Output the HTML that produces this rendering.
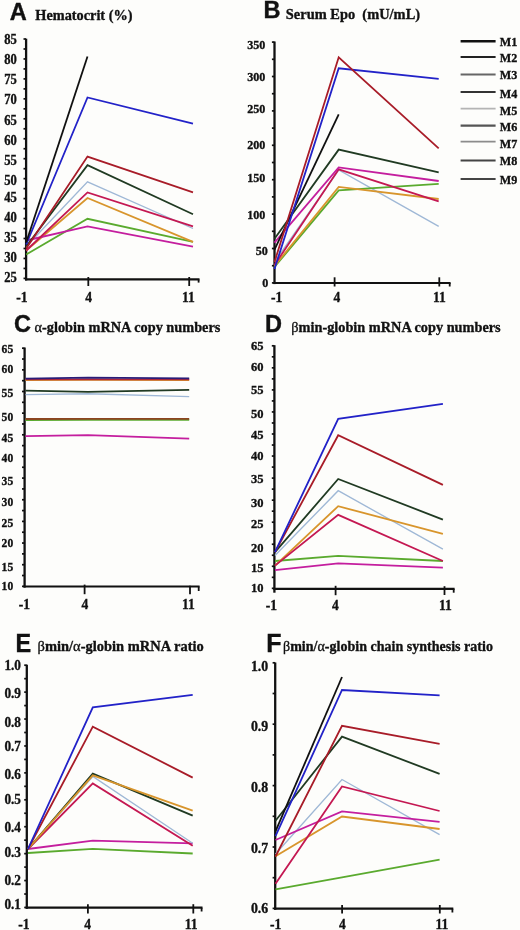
<!DOCTYPE html>
<html><head><meta charset="utf-8"><title>Figure</title>
<style>
html,body{margin:0;padding:0;background:#fdfdfb;}
body{width:520px;height:930px;overflow:hidden;font-family:"Liberation Serif", serif;}
svg{display:block;filter:blur(0.3px);} text{will-change:transform;}
</style></head>
<body>
<svg width="520" height="930" viewBox="0 0 520 930">
<rect x="0" y="0" width="520" height="930" fill="#fdfdfb"/>
<g fill="#111">
<text transform="translate(9.70,20.40) scale(0.97,1)" font-size="24.3" text-anchor="start" font-family='"Liberation Sans", sans-serif' font-weight="bold" stroke="#111" stroke-width="0.4">A</text>
<text transform="translate(35.30,20.40) scale(0.94,1)" font-size="15.2" text-anchor="start" font-family='"Liberation Serif", serif' font-weight="bold" stroke="#111" stroke-width="0.35">Hematocrit (%)</text>
<line x1="26.10" y1="38.70" x2="26.10" y2="280.50" stroke="#111" stroke-width="2.3"/>
<line x1="23.50" y1="39.00" x2="26.10" y2="39.00" stroke="#111" stroke-width="1.7"/>
<line x1="23.50" y1="48.98" x2="26.10" y2="48.98" stroke="#111" stroke-width="1.7"/>
<line x1="23.50" y1="58.95" x2="26.10" y2="58.95" stroke="#111" stroke-width="1.7"/>
<line x1="23.50" y1="68.92" x2="26.10" y2="68.92" stroke="#111" stroke-width="1.7"/>
<line x1="23.50" y1="78.90" x2="26.10" y2="78.90" stroke="#111" stroke-width="1.7"/>
<line x1="23.50" y1="88.88" x2="26.10" y2="88.88" stroke="#111" stroke-width="1.7"/>
<line x1="23.50" y1="98.85" x2="26.10" y2="98.85" stroke="#111" stroke-width="1.7"/>
<line x1="23.50" y1="108.83" x2="26.10" y2="108.83" stroke="#111" stroke-width="1.7"/>
<line x1="23.50" y1="118.80" x2="26.10" y2="118.80" stroke="#111" stroke-width="1.7"/>
<line x1="23.50" y1="128.78" x2="26.10" y2="128.78" stroke="#111" stroke-width="1.7"/>
<line x1="23.50" y1="138.75" x2="26.10" y2="138.75" stroke="#111" stroke-width="1.7"/>
<line x1="23.50" y1="148.73" x2="26.10" y2="148.73" stroke="#111" stroke-width="1.7"/>
<line x1="23.50" y1="158.70" x2="26.10" y2="158.70" stroke="#111" stroke-width="1.7"/>
<line x1="23.50" y1="168.68" x2="26.10" y2="168.68" stroke="#111" stroke-width="1.7"/>
<line x1="23.50" y1="178.65" x2="26.10" y2="178.65" stroke="#111" stroke-width="1.7"/>
<line x1="23.50" y1="188.62" x2="26.10" y2="188.62" stroke="#111" stroke-width="1.7"/>
<line x1="23.50" y1="198.60" x2="26.10" y2="198.60" stroke="#111" stroke-width="1.7"/>
<line x1="23.50" y1="208.58" x2="26.10" y2="208.58" stroke="#111" stroke-width="1.7"/>
<line x1="23.50" y1="218.55" x2="26.10" y2="218.55" stroke="#111" stroke-width="1.7"/>
<line x1="23.50" y1="228.53" x2="26.10" y2="228.53" stroke="#111" stroke-width="1.7"/>
<line x1="23.50" y1="238.50" x2="26.10" y2="238.50" stroke="#111" stroke-width="1.7"/>
<line x1="23.50" y1="248.48" x2="26.10" y2="248.48" stroke="#111" stroke-width="1.7"/>
<line x1="23.50" y1="258.45" x2="26.10" y2="258.45" stroke="#111" stroke-width="1.7"/>
<line x1="23.50" y1="268.43" x2="26.10" y2="268.43" stroke="#111" stroke-width="1.7"/>
<line x1="23.50" y1="278.40" x2="26.10" y2="278.40" stroke="#111" stroke-width="1.7"/>
<text transform="translate(16.90,43.73) scale(0.9,1)" font-size="14" text-anchor="end" font-family='"Liberation Serif", serif' font-weight="bold" stroke="#111" stroke-width="0.35">85</text>
<text transform="translate(16.90,64.03) scale(0.9,1)" font-size="14" text-anchor="end" font-family='"Liberation Serif", serif' font-weight="bold" stroke="#111" stroke-width="0.35">80</text>
<text transform="translate(16.90,84.23) scale(0.9,1)" font-size="14" text-anchor="end" font-family='"Liberation Serif", serif' font-weight="bold" stroke="#111" stroke-width="0.35">75</text>
<text transform="translate(16.90,103.93) scale(0.9,1)" font-size="14" text-anchor="end" font-family='"Liberation Serif", serif' font-weight="bold" stroke="#111" stroke-width="0.35">70</text>
<text transform="translate(16.90,124.73) scale(0.9,1)" font-size="14" text-anchor="end" font-family='"Liberation Serif", serif' font-weight="bold" stroke="#111" stroke-width="0.35">65</text>
<text transform="translate(16.90,144.93) scale(0.9,1)" font-size="14" text-anchor="end" font-family='"Liberation Serif", serif' font-weight="bold" stroke="#111" stroke-width="0.35">60</text>
<text transform="translate(16.90,164.93) scale(0.9,1)" font-size="14" text-anchor="end" font-family='"Liberation Serif", serif' font-weight="bold" stroke="#111" stroke-width="0.35">55</text>
<text transform="translate(16.90,185.03) scale(0.9,1)" font-size="14" text-anchor="end" font-family='"Liberation Serif", serif' font-weight="bold" stroke="#111" stroke-width="0.35">50</text>
<text transform="translate(16.90,201.83) scale(0.9,1)" font-size="14" text-anchor="end" font-family='"Liberation Serif", serif' font-weight="bold" stroke="#111" stroke-width="0.35">45</text>
<text transform="translate(16.90,221.53) scale(0.9,1)" font-size="14" text-anchor="end" font-family='"Liberation Serif", serif' font-weight="bold" stroke="#111" stroke-width="0.35">40</text>
<text transform="translate(16.90,241.93) scale(0.9,1)" font-size="14" text-anchor="end" font-family='"Liberation Serif", serif' font-weight="bold" stroke="#111" stroke-width="0.35">35</text>
<text transform="translate(16.90,262.13) scale(0.9,1)" font-size="14" text-anchor="end" font-family='"Liberation Serif", serif' font-weight="bold" stroke="#111" stroke-width="0.35">30</text>
<text transform="translate(16.90,282.33) scale(0.9,1)" font-size="14" text-anchor="end" font-family='"Liberation Serif", serif' font-weight="bold" stroke="#111" stroke-width="0.35">25</text>
<line x1="25.00" y1="279.40" x2="199.50" y2="279.40" stroke="#111" stroke-width="2.2"/>
<line x1="88.30" y1="277.00" x2="88.30" y2="286.00" stroke="#111" stroke-width="1.8"/>
<line x1="189.20" y1="277.00" x2="189.20" y2="286.00" stroke="#111" stroke-width="1.8"/>
<line x1="198.60" y1="279.40" x2="198.60" y2="282.60" stroke="#111" stroke-width="1.8"/>
<text transform="translate(22.00,302.00) scale(0.97,1)" font-size="14" text-anchor="middle" font-family='"Liberation Serif", serif' font-weight="bold" stroke="#111" stroke-width="0.35">-1</text>
<text transform="translate(88.70,302.00) scale(0.97,1)" font-size="14" text-anchor="middle" font-family='"Liberation Serif", serif' font-weight="bold" stroke="#111" stroke-width="0.35">4</text>
<text transform="translate(188.50,302.00) scale(0.97,1)" font-size="14" text-anchor="middle" font-family='"Liberation Serif", serif' font-weight="bold" stroke="#111" stroke-width="0.35">11</text>
<polyline points="26.2,246.5 87.5,181.8 193,228.5" fill="none" stroke="#9fb8d6" stroke-width="1.35" stroke-linejoin="miter" stroke-linecap="butt"/>
<polyline points="26.2,254.5 87.5,218.8 193,241.8" fill="none" stroke="#5aaa2e" stroke-width="1.8" stroke-linejoin="miter" stroke-linecap="butt"/>
<polyline points="26.2,250.5 87.5,198 193,241.8" fill="none" stroke="#d8952c" stroke-width="1.8" stroke-linejoin="miter" stroke-linecap="butt"/>
<polyline points="26.2,240.5 87.5,226.3 193,246.6" fill="none" stroke="#c41e9e" stroke-width="1.8" stroke-linejoin="miter" stroke-linecap="butt"/>
<polyline points="26.2,250.5 87.5,192.4 193,226.4" fill="none" stroke="#c41852" stroke-width="1.8" stroke-linejoin="miter" stroke-linecap="butt"/>
<polyline points="26.2,246.5 87.5,165.1 193,214.3" fill="none" stroke="#203a22" stroke-width="1.8" stroke-linejoin="miter" stroke-linecap="butt"/>
<polyline points="26.2,248.5 87.5,156.6 193,192.3" fill="none" stroke="#a81c28" stroke-width="1.8" stroke-linejoin="miter" stroke-linecap="butt"/>
<polyline points="26.2,244.5 87.5,97.5 193,123.6" fill="none" stroke="#2222c8" stroke-width="1.8" stroke-linejoin="miter" stroke-linecap="butt"/>
<polyline points="26.2,242.5 87.5,56.5" fill="none" stroke="#101010" stroke-width="1.8" stroke-linejoin="miter" stroke-linecap="butt"/>
<text transform="translate(263.60,17.90) scale(0.97,1)" font-size="24.3" text-anchor="start" font-family='"Liberation Sans", sans-serif' font-weight="bold" stroke="#111" stroke-width="0.4">B</text>
<text transform="translate(285.80,18.50) scale(0.95,1)" font-size="15.2" text-anchor="start" font-family='"Liberation Serif", serif' font-weight="bold" stroke="#111" stroke-width="0.35">Serum Epo&#160;&#160;(mU/mL)</text>
<line x1="274.50" y1="41.50" x2="274.50" y2="284.10" stroke="#111" stroke-width="2.3"/>
<line x1="271.90" y1="42.10" x2="274.50" y2="42.10" stroke="#111" stroke-width="1.7"/>
<line x1="271.90" y1="59.30" x2="274.50" y2="59.30" stroke="#111" stroke-width="1.7"/>
<line x1="271.90" y1="76.50" x2="274.50" y2="76.50" stroke="#111" stroke-width="1.7"/>
<line x1="271.90" y1="93.70" x2="274.50" y2="93.70" stroke="#111" stroke-width="1.7"/>
<line x1="271.90" y1="110.90" x2="274.50" y2="110.90" stroke="#111" stroke-width="1.7"/>
<line x1="271.90" y1="128.10" x2="274.50" y2="128.10" stroke="#111" stroke-width="1.7"/>
<line x1="271.90" y1="145.30" x2="274.50" y2="145.30" stroke="#111" stroke-width="1.7"/>
<line x1="271.90" y1="162.50" x2="274.50" y2="162.50" stroke="#111" stroke-width="1.7"/>
<line x1="271.90" y1="179.70" x2="274.50" y2="179.70" stroke="#111" stroke-width="1.7"/>
<line x1="271.90" y1="196.90" x2="274.50" y2="196.90" stroke="#111" stroke-width="1.7"/>
<line x1="271.90" y1="214.10" x2="274.50" y2="214.10" stroke="#111" stroke-width="1.7"/>
<line x1="271.90" y1="231.30" x2="274.50" y2="231.30" stroke="#111" stroke-width="1.7"/>
<line x1="271.90" y1="248.50" x2="274.50" y2="248.50" stroke="#111" stroke-width="1.7"/>
<line x1="271.90" y1="265.70" x2="274.50" y2="265.70" stroke="#111" stroke-width="1.7"/>
<line x1="271.90" y1="282.90" x2="274.50" y2="282.90" stroke="#111" stroke-width="1.7"/>
<text transform="translate(265.40,49.06) scale(0.92,1)" font-size="13.2" text-anchor="end" font-family='"Liberation Serif", serif' font-weight="bold" stroke="#111" stroke-width="0.35">350</text>
<text transform="translate(265.40,81.26) scale(0.92,1)" font-size="13.2" text-anchor="end" font-family='"Liberation Serif", serif' font-weight="bold" stroke="#111" stroke-width="0.35">300</text>
<text transform="translate(265.40,113.26) scale(0.92,1)" font-size="13.2" text-anchor="end" font-family='"Liberation Serif", serif' font-weight="bold" stroke="#111" stroke-width="0.35">250</text>
<text transform="translate(265.40,149.06) scale(0.92,1)" font-size="13.2" text-anchor="end" font-family='"Liberation Serif", serif' font-weight="bold" stroke="#111" stroke-width="0.35">200</text>
<text transform="translate(265.40,182.46) scale(0.92,1)" font-size="13.2" text-anchor="end" font-family='"Liberation Serif", serif' font-weight="bold" stroke="#111" stroke-width="0.35">150</text>
<text transform="translate(265.40,219.06) scale(0.92,1)" font-size="13.2" text-anchor="end" font-family='"Liberation Serif", serif' font-weight="bold" stroke="#111" stroke-width="0.35">100</text>
<text transform="translate(267.80,254.86) scale(0.92,1)" font-size="13.2" text-anchor="end" font-family='"Liberation Serif", serif' font-weight="bold" stroke="#111" stroke-width="0.35">50</text>
<text transform="translate(268.30,287.46) scale(0.92,1)" font-size="13.2" text-anchor="end" font-family='"Liberation Serif", serif' font-weight="bold" stroke="#111" stroke-width="0.35">0</text>
<line x1="273.40" y1="283.00" x2="450.60" y2="283.00" stroke="#111" stroke-width="2.2"/>
<line x1="334.60" y1="277.30" x2="334.60" y2="286.50" stroke="#111" stroke-width="1.8"/>
<line x1="439.30" y1="277.30" x2="439.30" y2="286.50" stroke="#111" stroke-width="1.8"/>
<line x1="449.70" y1="283.00" x2="449.70" y2="286.50" stroke="#111" stroke-width="1.8"/>
<text transform="translate(276.60,302.30) scale(0.97,1)" font-size="14" text-anchor="middle" font-family='"Liberation Serif", serif' font-weight="bold" stroke="#111" stroke-width="0.35">-1</text>
<text transform="translate(336.80,302.30) scale(0.97,1)" font-size="14" text-anchor="middle" font-family='"Liberation Serif", serif' font-weight="bold" stroke="#111" stroke-width="0.35">4</text>
<text transform="translate(439.30,302.30) scale(0.97,1)" font-size="14" text-anchor="middle" font-family='"Liberation Serif", serif' font-weight="bold" stroke="#111" stroke-width="0.35">11</text>
<polyline points="274.5,262 338.7,170 438.7,226.4" fill="none" stroke="#9fb8d6" stroke-width="1.35" stroke-linejoin="miter" stroke-linecap="butt"/>
<polyline points="274.5,267 338.7,190.3 438.7,183.9" fill="none" stroke="#5aaa2e" stroke-width="1.8" stroke-linejoin="miter" stroke-linecap="butt"/>
<polyline points="274.5,266 338.7,186.9 438.7,199" fill="none" stroke="#d8952c" stroke-width="1.8" stroke-linejoin="miter" stroke-linecap="butt"/>
<polyline points="274.5,265 338.7,169.3 438.7,201.3" fill="none" stroke="#c41852" stroke-width="1.8" stroke-linejoin="miter" stroke-linecap="butt"/>
<polyline points="274.5,242.7 338.7,167.4 438.7,181" fill="none" stroke="#c41e9e" stroke-width="1.8" stroke-linejoin="miter" stroke-linecap="butt"/>
<polyline points="274.5,238.8 338.7,149.6 438.7,172.3" fill="none" stroke="#203a22" stroke-width="1.8" stroke-linejoin="miter" stroke-linecap="butt"/>
<polyline points="274.5,249.6 338.7,114.4" fill="none" stroke="#101010" stroke-width="1.8" stroke-linejoin="miter" stroke-linecap="butt"/>
<polyline points="274.5,269 338.7,68.3 438.7,78.8" fill="none" stroke="#2222c8" stroke-width="1.8" stroke-linejoin="miter" stroke-linecap="butt"/>
<polyline points="274.5,262 338.7,57.3 438.7,148.4" fill="none" stroke="#a81c28" stroke-width="1.8" stroke-linejoin="miter" stroke-linecap="butt"/>
<line x1="460.60" y1="41.20" x2="495.60" y2="41.20" stroke="#111" stroke-width="2.6"/>
<text transform="translate(499.70,46.40) scale(0.9,1)" font-size="13.5" text-anchor="start" font-family='"Liberation Serif", serif' font-weight="bold" stroke="#111" stroke-width="0.35">M1</text>
<line x1="460.60" y1="57.00" x2="495.60" y2="57.00" stroke="#222" stroke-width="2.2"/>
<text transform="translate(499.70,62.30) scale(0.9,1)" font-size="13.5" text-anchor="start" font-family='"Liberation Serif", serif' font-weight="bold" stroke="#111" stroke-width="0.35">M2</text>
<line x1="460.60" y1="74.40" x2="495.60" y2="74.40" stroke="#666" stroke-width="2"/>
<text transform="translate(499.70,78.90) scale(0.9,1)" font-size="13.5" text-anchor="start" font-family='"Liberation Serif", serif' font-weight="bold" stroke="#111" stroke-width="0.35">M3</text>
<line x1="460.60" y1="91.90" x2="495.60" y2="91.90" stroke="#333" stroke-width="2"/>
<text transform="translate(499.70,98.30) scale(0.9,1)" font-size="13.5" text-anchor="start" font-family='"Liberation Serif", serif' font-weight="bold" stroke="#111" stroke-width="0.35">M4</text>
<line x1="460.60" y1="108.60" x2="495.60" y2="108.60" stroke="#b4b4b4" stroke-width="1.6"/>
<text transform="translate(499.70,115.10) scale(0.9,1)" font-size="13.5" text-anchor="start" font-family='"Liberation Serif", serif' font-weight="bold" stroke="#111" stroke-width="0.35">M5</text>
<line x1="460.60" y1="125.60" x2="495.60" y2="125.60" stroke="#555" stroke-width="2.2"/>
<text transform="translate(499.70,131.40) scale(0.9,1)" font-size="13.5" text-anchor="start" font-family='"Liberation Serif", serif' font-weight="bold" stroke="#111" stroke-width="0.35">M6</text>
<line x1="460.60" y1="141.70" x2="495.60" y2="141.70" stroke="#8c8c8c" stroke-width="1.8"/>
<text transform="translate(499.70,147.60) scale(0.9,1)" font-size="13.5" text-anchor="start" font-family='"Liberation Serif", serif' font-weight="bold" stroke="#111" stroke-width="0.35">M7</text>
<line x1="460.60" y1="160.60" x2="495.60" y2="160.60" stroke="#444" stroke-width="2"/>
<text transform="translate(499.70,164.50) scale(0.9,1)" font-size="13.5" text-anchor="start" font-family='"Liberation Serif", serif' font-weight="bold" stroke="#111" stroke-width="0.35">M8</text>
<line x1="460.60" y1="179.00" x2="495.60" y2="179.00" stroke="#444" stroke-width="2"/>
<text transform="translate(499.70,183.90) scale(0.9,1)" font-size="13.5" text-anchor="start" font-family='"Liberation Serif", serif' font-weight="bold" stroke="#111" stroke-width="0.35">M9</text>
<text transform="translate(14.00,331.60) scale(0.97,1)" font-size="24.3" text-anchor="start" font-family='"Liberation Sans", sans-serif' font-weight="bold" stroke="#111" stroke-width="0.4">C</text>
<text transform="translate(34.60,332.00) scale(0.935,1)" font-size="15.3" text-anchor="start" font-family='"Liberation Serif", serif' font-weight="bold" stroke="#111" stroke-width="0.35"><tspan font-weight="normal">α</tspan>-globin mRNA copy numbers</text>
<line x1="24.60" y1="347.50" x2="24.60" y2="587.60" stroke="#111" stroke-width="2.3"/>
<line x1="22.00" y1="348.20" x2="24.60" y2="348.20" stroke="#111" stroke-width="1.7"/>
<line x1="22.00" y1="359.02" x2="24.60" y2="359.02" stroke="#111" stroke-width="1.7"/>
<line x1="22.00" y1="369.85" x2="24.60" y2="369.85" stroke="#111" stroke-width="1.7"/>
<line x1="22.00" y1="380.68" x2="24.60" y2="380.68" stroke="#111" stroke-width="1.7"/>
<line x1="22.00" y1="391.50" x2="24.60" y2="391.50" stroke="#111" stroke-width="1.7"/>
<line x1="22.00" y1="402.32" x2="24.60" y2="402.32" stroke="#111" stroke-width="1.7"/>
<line x1="22.00" y1="413.15" x2="24.60" y2="413.15" stroke="#111" stroke-width="1.7"/>
<line x1="22.00" y1="423.98" x2="24.60" y2="423.98" stroke="#111" stroke-width="1.7"/>
<line x1="22.00" y1="434.80" x2="24.60" y2="434.80" stroke="#111" stroke-width="1.7"/>
<line x1="22.00" y1="445.62" x2="24.60" y2="445.62" stroke="#111" stroke-width="1.7"/>
<line x1="22.00" y1="456.45" x2="24.60" y2="456.45" stroke="#111" stroke-width="1.7"/>
<line x1="22.00" y1="467.27" x2="24.60" y2="467.27" stroke="#111" stroke-width="1.7"/>
<line x1="22.00" y1="478.10" x2="24.60" y2="478.10" stroke="#111" stroke-width="1.7"/>
<line x1="22.00" y1="488.92" x2="24.60" y2="488.92" stroke="#111" stroke-width="1.7"/>
<line x1="22.00" y1="499.75" x2="24.60" y2="499.75" stroke="#111" stroke-width="1.7"/>
<line x1="22.00" y1="510.57" x2="24.60" y2="510.57" stroke="#111" stroke-width="1.7"/>
<line x1="22.00" y1="521.40" x2="24.60" y2="521.40" stroke="#111" stroke-width="1.7"/>
<line x1="22.00" y1="532.23" x2="24.60" y2="532.23" stroke="#111" stroke-width="1.7"/>
<line x1="22.00" y1="543.05" x2="24.60" y2="543.05" stroke="#111" stroke-width="1.7"/>
<line x1="22.00" y1="553.88" x2="24.60" y2="553.88" stroke="#111" stroke-width="1.7"/>
<line x1="22.00" y1="564.70" x2="24.60" y2="564.70" stroke="#111" stroke-width="1.7"/>
<line x1="22.00" y1="575.52" x2="24.60" y2="575.52" stroke="#111" stroke-width="1.7"/>
<line x1="22.00" y1="586.35" x2="24.60" y2="586.35" stroke="#111" stroke-width="1.7"/>
<text transform="translate(13.20,352.66) scale(0.92,1)" font-size="12.6" text-anchor="end" font-family='"Liberation Serif", serif' font-weight="bold" stroke="#111" stroke-width="0.35">65</text>
<text transform="translate(13.20,372.66) scale(0.92,1)" font-size="12.6" text-anchor="end" font-family='"Liberation Serif", serif' font-weight="bold" stroke="#111" stroke-width="0.35">60</text>
<text transform="translate(13.20,397.26) scale(0.92,1)" font-size="12.6" text-anchor="end" font-family='"Liberation Serif", serif' font-weight="bold" stroke="#111" stroke-width="0.35">55</text>
<text transform="translate(13.20,421.26) scale(0.92,1)" font-size="12.6" text-anchor="end" font-family='"Liberation Serif", serif' font-weight="bold" stroke="#111" stroke-width="0.35">50</text>
<text transform="translate(13.20,441.66) scale(0.92,1)" font-size="12.6" text-anchor="end" font-family='"Liberation Serif", serif' font-weight="bold" stroke="#111" stroke-width="0.35">45</text>
<text transform="translate(13.20,461.86) scale(0.92,1)" font-size="12.6" text-anchor="end" font-family='"Liberation Serif", serif' font-weight="bold" stroke="#111" stroke-width="0.35">40</text>
<text transform="translate(13.20,485.26) scale(0.92,1)" font-size="12.6" text-anchor="end" font-family='"Liberation Serif", serif' font-weight="bold" stroke="#111" stroke-width="0.35">35</text>
<text transform="translate(13.20,506.26) scale(0.92,1)" font-size="12.6" text-anchor="end" font-family='"Liberation Serif", serif' font-weight="bold" stroke="#111" stroke-width="0.35">30</text>
<text transform="translate(13.20,527.26) scale(0.92,1)" font-size="12.6" text-anchor="end" font-family='"Liberation Serif", serif' font-weight="bold" stroke="#111" stroke-width="0.35">25</text>
<text transform="translate(13.20,546.96) scale(0.92,1)" font-size="12.6" text-anchor="end" font-family='"Liberation Serif", serif' font-weight="bold" stroke="#111" stroke-width="0.35">20</text>
<text transform="translate(13.20,570.56) scale(0.92,1)" font-size="12.6" text-anchor="end" font-family='"Liberation Serif", serif' font-weight="bold" stroke="#111" stroke-width="0.35">15</text>
<text transform="translate(13.20,590.46) scale(0.92,1)" font-size="12.6" text-anchor="end" font-family='"Liberation Serif", serif' font-weight="bold" stroke="#111" stroke-width="0.35">10</text>
<line x1="23.50" y1="586.50" x2="199.60" y2="586.50" stroke="#111" stroke-width="2.2"/>
<line x1="84.60" y1="584.60" x2="84.60" y2="594.20" stroke="#111" stroke-width="1.8"/>
<line x1="190.00" y1="585.80" x2="190.00" y2="594.20" stroke="#111" stroke-width="1.8"/>
<line x1="198.70" y1="586.50" x2="198.70" y2="591.00" stroke="#111" stroke-width="1.8"/>
<text transform="translate(24.40,609.20) scale(0.97,1)" font-size="14" text-anchor="middle" font-family='"Liberation Serif", serif' font-weight="bold" stroke="#111" stroke-width="0.35">-1</text>
<text transform="translate(84.80,609.20) scale(0.97,1)" font-size="14" text-anchor="middle" font-family='"Liberation Serif", serif' font-weight="bold" stroke="#111" stroke-width="0.35">4</text>
<text transform="translate(188.40,609.20) scale(0.97,1)" font-size="14" text-anchor="middle" font-family='"Liberation Serif", serif' font-weight="bold" stroke="#111" stroke-width="0.35">11</text>
<polyline points="25.5,420.0 88,419.8 189.2,419.8" fill="none" stroke="#5aaa2e" stroke-width="1.8" stroke-linejoin="miter" stroke-linecap="butt"/>
<polyline points="25.5,419.0 88,418.8 189.2,418.8" fill="none" stroke="#8c4420" stroke-width="1.8" stroke-linejoin="miter" stroke-linecap="butt"/>
<polyline points="25.5,436.2 88,435.2 189.2,438.7" fill="none" stroke="#c41e9e" stroke-width="1.8" stroke-linejoin="miter" stroke-linecap="butt"/>
<polyline points="25.5,394.6 88,393.8 189.2,396.7" fill="none" stroke="#9fb8d6" stroke-width="1.35" stroke-linejoin="miter" stroke-linecap="butt"/>
<polyline points="25.5,390.6 88,391.9 189.2,389.8" fill="none" stroke="#203a22" stroke-width="1.8" stroke-linejoin="miter" stroke-linecap="butt"/>
<polyline points="25.5,380.0 88,379.8 189.2,380.2" fill="none" stroke="#d8952c" stroke-width="1.8" stroke-linejoin="miter" stroke-linecap="butt"/>
<polyline points="25.5,379.4 88,379.4 189.2,379.4" fill="none" stroke="#b02838" stroke-width="1.8" stroke-linejoin="miter" stroke-linecap="butt"/>
<polyline points="25.5,378.6 88,377.6 189.2,378.3" fill="none" stroke="#2a1c78" stroke-width="1.8" stroke-linejoin="miter" stroke-linecap="butt"/>
<text transform="translate(265.00,332.20) scale(0.97,1)" font-size="24.3" text-anchor="start" font-family='"Liberation Sans", sans-serif' font-weight="bold" stroke="#111" stroke-width="0.4">D</text>
<text transform="translate(291.30,331.70) scale(0.935,1)" font-size="15.3" text-anchor="start" font-family='"Liberation Serif", serif' font-weight="bold" stroke="#111" stroke-width="0.35"><tspan font-weight="normal">β</tspan>min-globin mRNA copy numbers</text>
<line x1="274.40" y1="345.20" x2="274.40" y2="592.70" stroke="#111" stroke-width="2.3"/>
<line x1="271.80" y1="345.80" x2="274.40" y2="345.80" stroke="#111" stroke-width="1.7"/>
<line x1="271.80" y1="356.82" x2="274.40" y2="356.82" stroke="#111" stroke-width="1.7"/>
<line x1="271.80" y1="367.85" x2="274.40" y2="367.85" stroke="#111" stroke-width="1.7"/>
<line x1="271.80" y1="378.88" x2="274.40" y2="378.88" stroke="#111" stroke-width="1.7"/>
<line x1="271.80" y1="389.90" x2="274.40" y2="389.90" stroke="#111" stroke-width="1.7"/>
<line x1="271.80" y1="400.93" x2="274.40" y2="400.93" stroke="#111" stroke-width="1.7"/>
<line x1="271.80" y1="411.95" x2="274.40" y2="411.95" stroke="#111" stroke-width="1.7"/>
<line x1="271.80" y1="422.98" x2="274.40" y2="422.98" stroke="#111" stroke-width="1.7"/>
<line x1="271.80" y1="434.00" x2="274.40" y2="434.00" stroke="#111" stroke-width="1.7"/>
<line x1="271.80" y1="445.03" x2="274.40" y2="445.03" stroke="#111" stroke-width="1.7"/>
<line x1="271.80" y1="456.05" x2="274.40" y2="456.05" stroke="#111" stroke-width="1.7"/>
<line x1="271.80" y1="467.08" x2="274.40" y2="467.08" stroke="#111" stroke-width="1.7"/>
<line x1="271.80" y1="478.10" x2="274.40" y2="478.10" stroke="#111" stroke-width="1.7"/>
<line x1="271.80" y1="489.12" x2="274.40" y2="489.12" stroke="#111" stroke-width="1.7"/>
<line x1="271.80" y1="500.15" x2="274.40" y2="500.15" stroke="#111" stroke-width="1.7"/>
<line x1="271.80" y1="511.18" x2="274.40" y2="511.18" stroke="#111" stroke-width="1.7"/>
<line x1="271.80" y1="522.20" x2="274.40" y2="522.20" stroke="#111" stroke-width="1.7"/>
<line x1="271.80" y1="533.23" x2="274.40" y2="533.23" stroke="#111" stroke-width="1.7"/>
<line x1="271.80" y1="544.25" x2="274.40" y2="544.25" stroke="#111" stroke-width="1.7"/>
<line x1="271.80" y1="555.27" x2="274.40" y2="555.27" stroke="#111" stroke-width="1.7"/>
<line x1="271.80" y1="566.30" x2="274.40" y2="566.30" stroke="#111" stroke-width="1.7"/>
<line x1="271.80" y1="577.33" x2="274.40" y2="577.33" stroke="#111" stroke-width="1.7"/>
<line x1="271.80" y1="588.35" x2="274.40" y2="588.35" stroke="#111" stroke-width="1.7"/>
<text transform="translate(263.50,350.36) scale(0.97,1)" font-size="12.9" text-anchor="end" font-family='"Liberation Serif", serif' font-weight="bold" stroke="#111" stroke-width="0.35">65</text>
<text transform="translate(263.50,370.96) scale(0.97,1)" font-size="12.9" text-anchor="end" font-family='"Liberation Serif", serif' font-weight="bold" stroke="#111" stroke-width="0.35">60</text>
<text transform="translate(263.50,393.96) scale(0.97,1)" font-size="12.9" text-anchor="end" font-family='"Liberation Serif", serif' font-weight="bold" stroke="#111" stroke-width="0.35">55</text>
<text transform="translate(263.50,418.46) scale(0.97,1)" font-size="12.9" text-anchor="end" font-family='"Liberation Serif", serif' font-weight="bold" stroke="#111" stroke-width="0.35">50</text>
<text transform="translate(263.50,438.76) scale(0.97,1)" font-size="12.9" text-anchor="end" font-family='"Liberation Serif", serif' font-weight="bold" stroke="#111" stroke-width="0.35">45</text>
<text transform="translate(263.50,459.66) scale(0.97,1)" font-size="12.9" text-anchor="end" font-family='"Liberation Serif", serif' font-weight="bold" stroke="#111" stroke-width="0.35">40</text>
<text transform="translate(263.50,483.36) scale(0.97,1)" font-size="12.9" text-anchor="end" font-family='"Liberation Serif", serif' font-weight="bold" stroke="#111" stroke-width="0.35">35</text>
<text transform="translate(263.50,507.06) scale(0.97,1)" font-size="12.9" text-anchor="end" font-family='"Liberation Serif", serif' font-weight="bold" stroke="#111" stroke-width="0.35">30</text>
<text transform="translate(263.50,527.76) scale(0.97,1)" font-size="12.9" text-anchor="end" font-family='"Liberation Serif", serif' font-weight="bold" stroke="#111" stroke-width="0.35">25</text>
<text transform="translate(263.50,551.86) scale(0.97,1)" font-size="12.9" text-anchor="end" font-family='"Liberation Serif", serif' font-weight="bold" stroke="#111" stroke-width="0.35">20</text>
<text transform="translate(263.50,572.06) scale(0.97,1)" font-size="12.9" text-anchor="end" font-family='"Liberation Serif", serif' font-weight="bold" stroke="#111" stroke-width="0.35">15</text>
<text transform="translate(263.50,591.66) scale(0.97,1)" font-size="12.9" text-anchor="end" font-family='"Liberation Serif", serif' font-weight="bold" stroke="#111" stroke-width="0.35">10</text>
<line x1="273.30" y1="588.80" x2="454.60" y2="588.80" stroke="#111" stroke-width="2.2"/>
<line x1="335.60" y1="585.80" x2="335.60" y2="595.20" stroke="#111" stroke-width="1.8"/>
<line x1="444.50" y1="586.20" x2="444.50" y2="595.00" stroke="#111" stroke-width="1.8"/>
<line x1="453.70" y1="588.80" x2="453.70" y2="592.70" stroke="#111" stroke-width="1.8"/>
<text transform="translate(271.50,610.00) scale(0.97,1)" font-size="14" text-anchor="middle" font-family='"Liberation Serif", serif' font-weight="bold" stroke="#111" stroke-width="0.35">-1</text>
<text transform="translate(335.40,610.00) scale(0.97,1)" font-size="14" text-anchor="middle" font-family='"Liberation Serif", serif' font-weight="bold" stroke="#111" stroke-width="0.35">4</text>
<text transform="translate(445.30,610.00) scale(0.97,1)" font-size="14" text-anchor="middle" font-family='"Liberation Serif", serif' font-weight="bold" stroke="#111" stroke-width="0.35">11</text>
<polyline points="275,561 338.2,555.9 442.9,561" fill="none" stroke="#5aaa2e" stroke-width="1.8" stroke-linejoin="miter" stroke-linecap="butt"/>
<polyline points="275,570.2 338.2,563.3 442.9,567.6" fill="none" stroke="#c41e9e" stroke-width="1.8" stroke-linejoin="miter" stroke-linecap="butt"/>
<polyline points="275,555.5 338.2,490.7 442.9,549.2" fill="none" stroke="#9fb8d6" stroke-width="1.35" stroke-linejoin="miter" stroke-linecap="butt"/>
<polyline points="275,565.6 338.2,506.2 442.9,533.9" fill="none" stroke="#d8952c" stroke-width="1.8" stroke-linejoin="miter" stroke-linecap="butt"/>
<polyline points="275,565.6 338.2,514.9 442.9,561" fill="none" stroke="#c41852" stroke-width="1.8" stroke-linejoin="miter" stroke-linecap="butt"/>
<polyline points="275,552.1 338.2,479 442.9,519.6" fill="none" stroke="#203a22" stroke-width="1.8" stroke-linejoin="miter" stroke-linecap="butt"/>
<polyline points="275,552.1 338.2,435.3 442.9,484.9" fill="none" stroke="#a81c28" stroke-width="1.8" stroke-linejoin="miter" stroke-linecap="butt"/>
<polyline points="275,552.1 338.2,418.8 442.9,403.9" fill="none" stroke="#2222c8" stroke-width="1.8" stroke-linejoin="miter" stroke-linecap="butt"/>
<text transform="translate(15.60,651.60) scale(0.93,1)" font-size="25.2" text-anchor="start" font-family='"Liberation Sans", sans-serif' font-weight="bold" stroke="#111" stroke-width="0.4">E</text>
<text transform="translate(37.50,651.10) scale(0.935,1)" font-size="15.5" text-anchor="start" font-family='"Liberation Serif", serif' font-weight="bold" stroke="#111" stroke-width="0.35"><tspan font-weight="normal">β</tspan>min/<tspan font-weight="normal">α</tspan>-globin mRNA ratio</text>
<line x1="26.80" y1="664.70" x2="26.80" y2="908.80" stroke="#111" stroke-width="2.3"/>
<line x1="24.20" y1="665.20" x2="26.80" y2="665.20" stroke="#111" stroke-width="1.7"/>
<line x1="24.20" y1="678.66" x2="26.80" y2="678.66" stroke="#111" stroke-width="1.7"/>
<line x1="24.20" y1="692.12" x2="26.80" y2="692.12" stroke="#111" stroke-width="1.7"/>
<line x1="24.20" y1="705.58" x2="26.80" y2="705.58" stroke="#111" stroke-width="1.7"/>
<line x1="24.20" y1="719.04" x2="26.80" y2="719.04" stroke="#111" stroke-width="1.7"/>
<line x1="24.20" y1="732.50" x2="26.80" y2="732.50" stroke="#111" stroke-width="1.7"/>
<line x1="24.20" y1="745.96" x2="26.80" y2="745.96" stroke="#111" stroke-width="1.7"/>
<line x1="24.20" y1="759.42" x2="26.80" y2="759.42" stroke="#111" stroke-width="1.7"/>
<line x1="24.20" y1="772.88" x2="26.80" y2="772.88" stroke="#111" stroke-width="1.7"/>
<line x1="24.20" y1="786.34" x2="26.80" y2="786.34" stroke="#111" stroke-width="1.7"/>
<line x1="24.20" y1="799.80" x2="26.80" y2="799.80" stroke="#111" stroke-width="1.7"/>
<line x1="24.20" y1="813.26" x2="26.80" y2="813.26" stroke="#111" stroke-width="1.7"/>
<line x1="24.20" y1="826.72" x2="26.80" y2="826.72" stroke="#111" stroke-width="1.7"/>
<line x1="24.20" y1="840.18" x2="26.80" y2="840.18" stroke="#111" stroke-width="1.7"/>
<line x1="24.20" y1="853.64" x2="26.80" y2="853.64" stroke="#111" stroke-width="1.7"/>
<line x1="24.20" y1="867.10" x2="26.80" y2="867.10" stroke="#111" stroke-width="1.7"/>
<line x1="24.20" y1="880.56" x2="26.80" y2="880.56" stroke="#111" stroke-width="1.7"/>
<line x1="24.20" y1="894.02" x2="26.80" y2="894.02" stroke="#111" stroke-width="1.7"/>
<line x1="24.20" y1="907.48" x2="26.80" y2="907.48" stroke="#111" stroke-width="1.7"/>
<text transform="translate(21.00,669.93) scale(0.95,1)" font-size="14" text-anchor="end" font-family='"Liberation Serif", serif' font-weight="bold" stroke="#111" stroke-width="0.35">1.0</text>
<text transform="translate(21.00,698.43) scale(0.95,1)" font-size="14" text-anchor="end" font-family='"Liberation Serif", serif' font-weight="bold" stroke="#111" stroke-width="0.35">0.9</text>
<text transform="translate(21.00,726.53) scale(0.95,1)" font-size="14" text-anchor="end" font-family='"Liberation Serif", serif' font-weight="bold" stroke="#111" stroke-width="0.35">0.8</text>
<text transform="translate(21.00,750.63) scale(0.95,1)" font-size="14" text-anchor="end" font-family='"Liberation Serif", serif' font-weight="bold" stroke="#111" stroke-width="0.35">0.7</text>
<text transform="translate(21.00,779.03) scale(0.95,1)" font-size="14" text-anchor="end" font-family='"Liberation Serif", serif' font-weight="bold" stroke="#111" stroke-width="0.35">0.6</text>
<text transform="translate(21.00,803.83) scale(0.95,1)" font-size="14" text-anchor="end" font-family='"Liberation Serif", serif' font-weight="bold" stroke="#111" stroke-width="0.35">0.5</text>
<text transform="translate(21.00,831.73) scale(0.95,1)" font-size="14" text-anchor="end" font-family='"Liberation Serif", serif' font-weight="bold" stroke="#111" stroke-width="0.35">0.4</text>
<text transform="translate(21.00,856.53) scale(0.95,1)" font-size="14" text-anchor="end" font-family='"Liberation Serif", serif' font-weight="bold" stroke="#111" stroke-width="0.35">0.3</text>
<text transform="translate(21.00,884.53) scale(0.95,1)" font-size="14" text-anchor="end" font-family='"Liberation Serif", serif' font-weight="bold" stroke="#111" stroke-width="0.35">0.2</text>
<text transform="translate(21.00,909.13) scale(0.95,1)" font-size="14" text-anchor="end" font-family='"Liberation Serif", serif' font-weight="bold" stroke="#111" stroke-width="0.35">0.1</text>
<line x1="25.70" y1="907.70" x2="202.50" y2="907.70" stroke="#111" stroke-width="2.2"/>
<line x1="87.90" y1="904.20" x2="87.90" y2="913.50" stroke="#111" stroke-width="1.8"/>
<line x1="193.30" y1="904.20" x2="193.30" y2="913.50" stroke="#111" stroke-width="1.8"/>
<line x1="201.60" y1="907.70" x2="201.60" y2="911.50" stroke="#111" stroke-width="1.8"/>
<text transform="translate(24.00,928.50) scale(0.97,1)" font-size="14" text-anchor="middle" font-family='"Liberation Serif", serif' font-weight="bold" stroke="#111" stroke-width="0.35">-1</text>
<text transform="translate(87.70,928.50) scale(0.97,1)" font-size="14" text-anchor="middle" font-family='"Liberation Serif", serif' font-weight="bold" stroke="#111" stroke-width="0.35">4</text>
<text transform="translate(191.20,928.50) scale(0.97,1)" font-size="14" text-anchor="middle" font-family='"Liberation Serif", serif' font-weight="bold" stroke="#111" stroke-width="0.35">11</text>
<polyline points="28,853 92.8,848.9 192.7,853.5" fill="none" stroke="#5aaa2e" stroke-width="1.8" stroke-linejoin="miter" stroke-linecap="butt"/>
<polyline points="28,849 92.8,840.6 192.7,843.3" fill="none" stroke="#c41e9e" stroke-width="1.8" stroke-linejoin="miter" stroke-linecap="butt"/>
<polyline points="28,849 92.8,776.5 192.7,843.3" fill="none" stroke="#9fb8d6" stroke-width="1.35" stroke-linejoin="miter" stroke-linecap="butt"/>
<polyline points="28,849 92.8,783.4 192.7,845.7" fill="none" stroke="#c41852" stroke-width="1.8" stroke-linejoin="miter" stroke-linecap="butt"/>
<polyline points="28,849 92.8,773.6 192.7,815.7" fill="none" stroke="#203a22" stroke-width="1.8" stroke-linejoin="miter" stroke-linecap="butt"/>
<polyline points="28,849 92.8,775.3 192.7,810.6" fill="none" stroke="#d8952c" stroke-width="1.8" stroke-linejoin="miter" stroke-linecap="butt"/>
<polyline points="28,849 92.8,726.7 192.7,777.6" fill="none" stroke="#a81c28" stroke-width="1.8" stroke-linejoin="miter" stroke-linecap="butt"/>
<polyline points="28,849 92.8,707.3 192.7,694.9" fill="none" stroke="#2222c8" stroke-width="1.8" stroke-linejoin="miter" stroke-linecap="butt"/>
<text transform="translate(266.30,651.60) scale(0.99,1)" font-size="25.2" text-anchor="start" font-family='"Liberation Sans", sans-serif' font-weight="bold" stroke="#111" stroke-width="0.4">F</text>
<text transform="translate(283.00,651.30) scale(0.93,1)" font-size="15.1" text-anchor="start" font-family='"Liberation Serif", serif' font-weight="bold" stroke="#111" stroke-width="0.35"><tspan font-weight="normal">β</tspan>min/<tspan font-weight="normal">α</tspan>-globin chain synthesis ratio</text>
<line x1="275.20" y1="662.50" x2="275.20" y2="909.80" stroke="#111" stroke-width="2.3"/>
<line x1="272.60" y1="662.80" x2="275.20" y2="662.80" stroke="#111" stroke-width="1.7"/>
<line x1="272.60" y1="693.50" x2="275.20" y2="693.50" stroke="#111" stroke-width="1.7"/>
<line x1="272.60" y1="724.20" x2="275.20" y2="724.20" stroke="#111" stroke-width="1.7"/>
<line x1="272.60" y1="754.90" x2="275.20" y2="754.90" stroke="#111" stroke-width="1.7"/>
<line x1="272.60" y1="785.60" x2="275.20" y2="785.60" stroke="#111" stroke-width="1.7"/>
<line x1="272.60" y1="816.30" x2="275.20" y2="816.30" stroke="#111" stroke-width="1.7"/>
<line x1="272.60" y1="847.00" x2="275.20" y2="847.00" stroke="#111" stroke-width="1.7"/>
<line x1="272.60" y1="877.70" x2="275.20" y2="877.70" stroke="#111" stroke-width="1.7"/>
<line x1="272.60" y1="908.40" x2="275.20" y2="908.40" stroke="#111" stroke-width="1.7"/>
<text transform="translate(268.20,670.73) scale(0.99,1)" font-size="14" text-anchor="end" font-family='"Liberation Serif", serif' font-weight="bold" stroke="#111" stroke-width="0.35">1.0</text>
<text transform="translate(268.20,731.33) scale(0.99,1)" font-size="14" text-anchor="end" font-family='"Liberation Serif", serif' font-weight="bold" stroke="#111" stroke-width="0.35">0.9</text>
<text transform="translate(268.20,791.93) scale(0.99,1)" font-size="14" text-anchor="end" font-family='"Liberation Serif", serif' font-weight="bold" stroke="#111" stroke-width="0.35">0.8</text>
<text transform="translate(268.20,852.53) scale(0.99,1)" font-size="14" text-anchor="end" font-family='"Liberation Serif", serif' font-weight="bold" stroke="#111" stroke-width="0.35">0.7</text>
<text transform="translate(268.20,913.13) scale(0.99,1)" font-size="14" text-anchor="end" font-family='"Liberation Serif", serif' font-weight="bold" stroke="#111" stroke-width="0.35">0.6</text>
<line x1="274.10" y1="908.70" x2="453.30" y2="908.70" stroke="#111" stroke-width="2.2"/>
<line x1="342.10" y1="905.00" x2="342.10" y2="913.50" stroke="#111" stroke-width="1.8"/>
<line x1="439.80" y1="905.00" x2="439.80" y2="913.50" stroke="#111" stroke-width="1.8"/>
<line x1="452.40" y1="908.70" x2="452.40" y2="912.50" stroke="#111" stroke-width="1.8"/>
<text transform="translate(275.60,929.00) scale(0.97,1)" font-size="14" text-anchor="middle" font-family='"Liberation Serif", serif' font-weight="bold" stroke="#111" stroke-width="0.35">-1</text>
<text transform="translate(342.50,929.00) scale(0.97,1)" font-size="14" text-anchor="middle" font-family='"Liberation Serif", serif' font-weight="bold" stroke="#111" stroke-width="0.35">4</text>
<text transform="translate(441.80,929.00) scale(0.97,1)" font-size="14" text-anchor="middle" font-family='"Liberation Serif", serif' font-weight="bold" stroke="#111" stroke-width="0.35">11</text>
<polyline points="275.5,889.4 342,877.3 439.6,859.6" fill="none" stroke="#5aaa2e" stroke-width="1.8" stroke-linejoin="miter" stroke-linecap="butt"/>
<polyline points="275.5,854 342,779.5 439.6,834.7" fill="none" stroke="#9fb8d6" stroke-width="1.35" stroke-linejoin="miter" stroke-linecap="butt"/>
<polyline points="275.5,856.3 342,816.5 439.6,829" fill="none" stroke="#d8952c" stroke-width="1.8" stroke-linejoin="miter" stroke-linecap="butt"/>
<polyline points="275.5,840 342,811.4 439.6,821.8" fill="none" stroke="#c41e9e" stroke-width="1.8" stroke-linejoin="miter" stroke-linecap="butt"/>
<polyline points="275.5,883.7 342,786.5 439.6,811" fill="none" stroke="#c41852" stroke-width="1.8" stroke-linejoin="miter" stroke-linecap="butt"/>
<polyline points="275.5,820.8 342,736.6 439.6,773.9" fill="none" stroke="#203a22" stroke-width="1.8" stroke-linejoin="miter" stroke-linecap="butt"/>
<polyline points="275.5,856.5 342,725.8 439.6,743.9" fill="none" stroke="#a81c28" stroke-width="1.8" stroke-linejoin="miter" stroke-linecap="butt"/>
<polyline points="275.5,836.2 342,690 439.6,695.3" fill="none" stroke="#2222c8" stroke-width="1.8" stroke-linejoin="miter" stroke-linecap="butt"/>
<polyline points="275.5,831.3 342,677" fill="none" stroke="#101010" stroke-width="1.8" stroke-linejoin="miter" stroke-linecap="butt"/>
</g>
</svg>
</body></html>
